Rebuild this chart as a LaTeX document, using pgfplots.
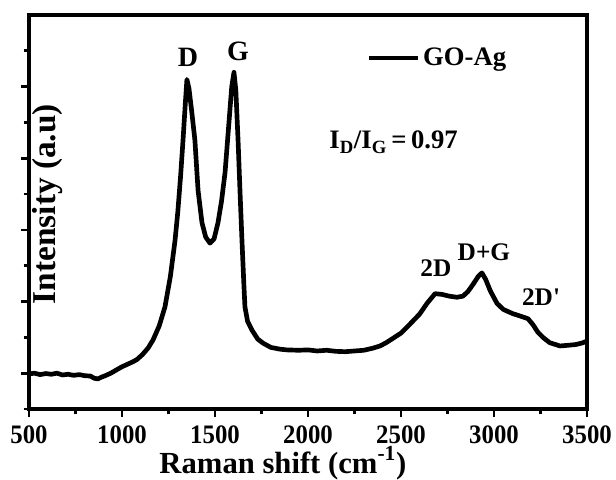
\documentclass[border=0pt]{standalone}
\usepackage{pgfplots}
\pgfplotsset{compat=1.18}
\usepackage{fontspec}
\setmainfont{Liberation Serif}

\begin{document}
\begin{tikzpicture}
\path[use as bounding box] (-21.75pt,-52.5pt) rectangle (440.25pt,306.75pt);
\begin{axis}[
at={(0,0)}, anchor=south west,
scale only axis,
width=418.5pt, height=295.5pt,
xmin=500, xmax=3500,
ymin=0, ymax=11,
axis line style={line width=2.4pt},
every tick/.style={line width=2pt, black},
tick align=outside,
tick pos=left,
xtick={500,1000,...,3500},
minor xtick={750,1250,...,3250},
ytick={1,3,5,7,9},
minor ytick={0,2,4,6,8,10},
yticklabels={},
major tick length=6pt,
minor tick length=4pt,
/pgf/number format/assume math mode=true,
/pgf/number format/1000 sep={},
xticklabel style={font=\fontsize{20}{20}\selectfont\bfseries, inner sep=0pt,
  yshift=-6pt, xscale=0.93},
xlabel={Raman shift (cm\textsuperscript{-1})},
xlabel style={font=\fontsize{23}{23}\selectfont\bfseries, inner sep=0pt,
  at={(rel axis cs:0.455,0)}, anchor=base, yshift=-48pt},
clip=false,
legend style={at={(rel axis cs:0.605,0.891)}, anchor=west, draw=none, fill=none,
  font=\fontsize{20}{20}\selectfont\bfseries, inner sep=0pt},
legend image code/.code={\draw[line width=3.5pt] (0pt,0pt) -- (36.75pt,0pt);},
]
\addplot[black, line width=3.5pt, line join=round] table {
500 0.98
530 1.00
560 0.96
590 0.99
620 0.97
650 1.00
680 0.95
710 0.97
740 0.94
770 0.96
800 0.93
830 0.92
850 0.86
870 0.84
890 0.89
910 0.93
940 1.00
973 1.10
1000 1.18
1030 1.25
1059 1.32
1080 1.38
1110 1.52
1140 1.70
1167 1.93
1200 2.32
1231 2.85
1260 3.70
1285 4.70
1300 5.50
1315 6.50
1328 7.50
1340 8.50
1349 9.20
1360 8.95
1375 8.30
1392 7.50
1409 6.10
1430 5.20
1450 4.80
1473 4.63
1495 4.75
1516 5.20
1535 5.80
1554 6.60
1575 8.00
1590 9.00
1602 9.40
1612 8.90
1624 7.50
1635 6.00
1645 4.70
1655 3.50
1661 2.85
1675 2.45
1699 2.20
1730 1.95
1758 1.84
1800 1.72
1850 1.67
1887 1.65
1950 1.64
2000 1.65
2050 1.62
2100 1.64
2150 1.61
2200 1.60
2250 1.62
2300 1.64
2350 1.70
2387 1.76
2420 1.85
2450 1.95
2500 2.12
2550 2.38
2600 2.65
2640 2.95
2683 3.22
2720 3.20
2760 3.15
2800 3.12
2833 3.15
2860 3.28
2890 3.50
2915 3.70
2935 3.80
2955 3.62
2980 3.30
3016 2.95
3050 2.78
3102 2.66
3150 2.58
3183 2.52
3210 2.35
3235 2.15
3263 2.00
3300 1.85
3355 1.76
3400 1.78
3440 1.80
3478 1.85
3500 1.90
};
\addlegendentry{GO-Ag}
\node[font=\fontsize{21}{21}\selectfont\bfseries] at (axis cs:1355,9.83) {D};
\node[font=\fontsize{21}{21}\selectfont\bfseries] at (axis cs:1624,9.99) {G};
\node[font=\fontsize{20}{20}\selectfont\bfseries] at (axis cs:2460,7.45)
  {I\textsubscript{D}/I\textsubscript{G}\,=\,0.97};
\node[font=\fontsize{19}{19}\selectfont\bfseries] at (axis cs:2688,3.94) {2D};
\node[font=\fontsize{19}{19}\selectfont\bfseries] at (axis cs:2946,4.38) {D+G};
\node[font=\fontsize{19}{19}\selectfont\bfseries] at (axis cs:3253,3.13) {2D\textquotesingle};
\node[font=\fontsize{25}{25}\selectfont\bfseries, rotate=90] at (axis cs:602,5.72) {Intensity (a.u)};
\end{axis}
\end{tikzpicture}
\end{document}
